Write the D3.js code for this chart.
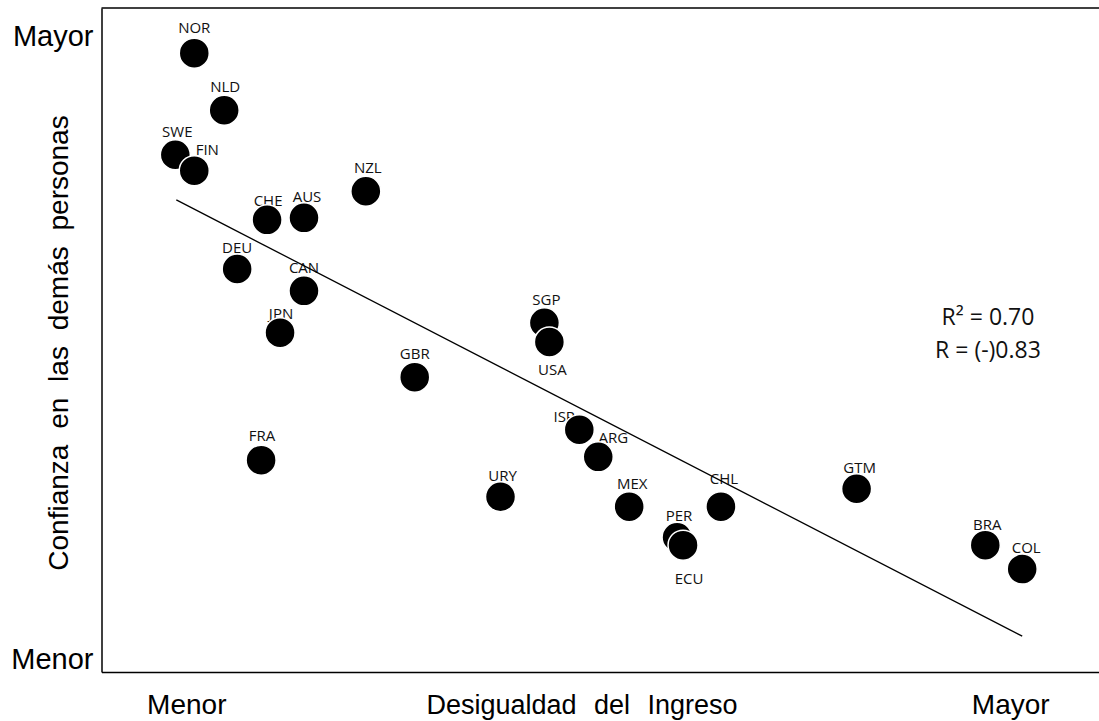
<!DOCTYPE html>
<html>
<head>
<meta charset="utf-8">
<script src="https://cdn.jsdelivr.net/npm/d3@7"></script>
<style>
  html, body { margin: 0; padding: 0; background: #fff; }
  svg { display: block; }
</style>
</head>
<body>
<svg id="chart" width="1099" height="721"></svg>
<script>
// ---- Data ----
const countries = ["NOR","NLD","SWE","FIN","CHE","AUS","NZL","DEU","CAN","JPN","GBR","FRA",
                   "SGP","USA","ISR","ARG","URY","MEX","CHL","PER","ECU","GTM","BRA","COL"];
const inequality = [9.3, 12.3, 7.4, 9.3, 16.6, 20.3, 26.5, 13.6, 20.3, 17.9, 31.4, 16.0,
                    44.4, 44.9, 47.9, 49.8, 40.0, 52.9, 62.1, 57.7, 58.3, 75.7, 88.6, 92.3];
const trust      = [93.2, 84.6, 77.9, 75.5, 68.1, 68.4, 72.4, 60.7, 57.4, 51.1, 44.4, 31.9,
                    52.6, 49.7, 36.5, 32.4, 26.4, 24.9, 24.9, 20.3, 19.1, 27.6, 19.1, 15.5];
const trendX = [7.5, 92.3];
const trendY = [71.1, 5.4];
const xTickValues = [8.5, 91.1];
const xTickLabels = ["Menor", "Mayor"];
const yTickValues = [2, 95.8];
const yTickLabels = ["Menor", "Mayor"];
const xTitle = "Desigualdad del Ingreso";
const yTitle = "Confianza en las demás personas";
const statLines = ["R² = 0.70", "R = (-)0.83"];

// ---- Label placement (layout only) ----
const labelDx = [0, 1, 2, 13, 1, 3, 2, 0, 0, 1, 0, 1, 2, 3, -15, 15, 2, 3, 3, 2, 6, 3, 2, 4];
const labelDy = [-20, -18, -18, -16, -14, -16, -18, -16, -18, -14, -18, -19,
                 -18, 33, -8, -14, -16, -18, -23, -16, 39, -16, -15, -16];

// ---- Layout ----
const svg = d3.select("#chart");
const plotLeft = 101.5, plotRight = 1099, plotTop = 8, plotBottom = 672;

const x = d3.scaleLinear().domain([0, 100]).range([plotLeft, plotRight]);
const y = d3.scaleLinear().domain([0, 100]).range([plotBottom, plotTop]);

const axisFont = "'Liberation Sans', Arial, sans-serif";
const labelFont = "'Open Sans', 'Noto Sans', sans-serif";

// top border
svg.append("line")
  .attr("x1", plotLeft).attr("x2", plotRight)
  .attr("y1", plotTop).attr("y2", plotTop)
  .attr("stroke", "#000").attr("stroke-width", 1.5);

// x axis
const xAxis = svg.append("g")
  .attr("transform", `translate(0,${plotBottom})`)
  .call(d3.axisBottom(x).tickValues(xTickValues)
        .tickFormat((d, i) => xTickLabels[i]).tickSize(0).tickSizeOuter(0));
xAxis.select(".domain").attr("stroke", "#000").attr("stroke-width", 1.5);
xAxis.selectAll(".tick text")
  .attr("y", 42).attr("dy", 0)
  .attr("font-family", axisFont).attr("font-size", 28).attr("fill", "#000");

// y axis
const yAxis = svg.append("g")
  .attr("transform", `translate(${plotLeft},0)`)
  .call(d3.axisLeft(y).tickValues(yTickValues)
        .tickFormat((d, i) => yTickLabels[i]).tickSize(0).tickSizeOuter(0));
yAxis.select(".domain").attr("stroke", "#000").attr("stroke-width", 1.5);
yAxis.selectAll(".tick text")
  .attr("x", -8)
  .attr("font-family", axisFont).attr("font-size", 29).attr("fill", "#000");

// axis titles
svg.append("text")
  .attr("x", 582).attr("y", 714)
  .attr("text-anchor", "middle")
  .attr("font-family", axisFont).attr("font-size", 27)
  .style("word-spacing", "10px")
  .text(xTitle);

svg.append("text")
  .attr("transform", `translate(68,343) rotate(-90)`)
  .attr("text-anchor", "middle")
  .attr("font-family", axisFont).attr("font-size", 28)
  .style("word-spacing", "8px")
  .text(yTitle);

// data labels (beneath markers)
const idx = d3.range(countries.length);
svg.append("g").selectAll("text")
  .data(idx).join("text")
  .attr("x", i => x(inequality[i]) + labelDx[i])
  .attr("y", i => y(trust[i]) + labelDy[i])
  .attr("text-anchor", "middle")
  .attr("font-family", labelFont).attr("font-size", 15)
  .attr("fill", "#111")
  .text(i => countries[i]);

// trend line
svg.append("line")
  .attr("x1", x(trendX[0])).attr("y1", y(trendY[0]))
  .attr("x2", x(trendX[1])).attr("y2", y(trendY[1]))
  .attr("stroke", "#000").attr("stroke-width", 1.3);

// markers
svg.append("g").selectAll("circle")
  .data(idx).join("circle")
  .attr("cx", i => x(inequality[i]))
  .attr("cy", i => y(trust[i]))
  .attr("r", 15)
  .attr("fill", "#000")
  .attr("stroke", "#fff").attr("stroke-width", 1.5);

// stats
svg.append("g").selectAll("text")
  .data(statLines).join("text")
  .attr("x", 988)
  .attr("y", (d, i) => 325 + i * 33)
  .attr("text-anchor", "middle")
  .attr("font-family", labelFont).attr("font-size", 23)
  .attr("fill", "#111")
  .text(d => d);
</script>
</body>
</html>
